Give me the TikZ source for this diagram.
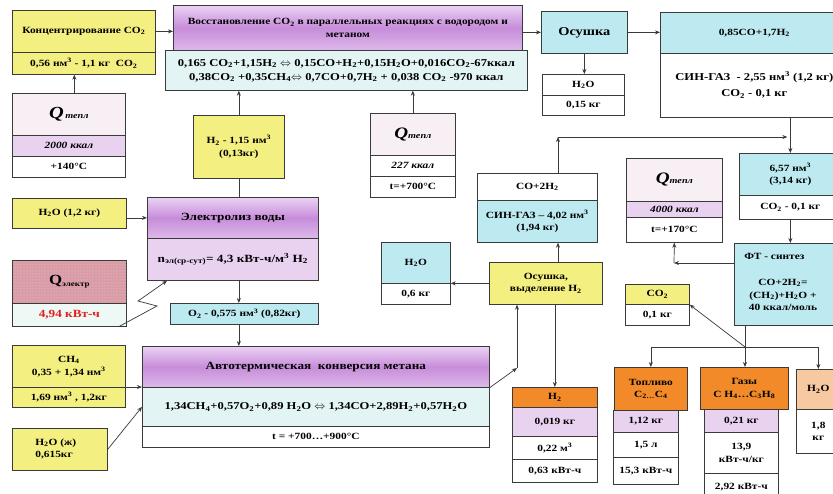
\documentclass[tikz,border=0pt]{standalone}
\usepackage{fontspec}
\setmainfont{Liberation Serif}[FakeStretch=1.2]
\usetikzlibrary{arrows.meta,calc,patterns}
\definecolor{yel}{HTML}{F3EF80}
\definecolor{cyn}{HTML}{BDEAF0}
\definecolor{lcyn}{HTML}{E3F4F4}
\definecolor{lav}{HTML}{E9D2F0}
\definecolor{pinkq}{HTML}{F7EFF3}
\definecolor{orng}{HTML}{F28A2A}
\definecolor{lorng}{HTML}{F6C9A0}
\definecolor{qred}{HTML}{D99CA6}
\definecolor{qdot}{HTML}{EFCDD2}
\definecolor{qel}{HTML}{EEF8F4}
\definecolor{redtxt}{HTML}{E02020}
\definecolor{lc}{HTML}{3A3A3A}
\definecolor{purA}{HTML}{EBD2F3}
\definecolor{purC}{HTML}{C78DDA}
\definecolor{purB}{HTML}{DDB8E9}
\newcommand\xsb[1]{\textsubscript{#1}}
\newcommand\xsp[1]{\textsuperscript{#1}}
\newcommand\Qt{{\fontsize{16}{16}\selectfont\itshape Q}{\fontsize{8.5}{8.5}\selectfont\itshape тепл}}
\tikzset{
  cell/.style={draw=lc, line width=0.7pt, inner sep=1pt, align=center,
    font=\bfseries\fontsize{9.5}{12.5}\selectfont, text=black},
  big/.style={font=\bfseries\fontsize{10.5}{13}\selectfont},
  arr/.style={draw=lc, line width=0.7pt, -{Stealth[length=5pt,width=4pt]}},
  ln/.style={draw=lc, line width=0.7pt},
  purp/.style={top color=purA, bottom color=purB, middle color=purC},
}
\newcommand\bx[7][]{\node[cell,minimum width={#5-#3},minimum height={#6-#4},anchor=north west,#1] (#2) at (#3,#4) {#7};}
\begin{document}
\begin{tikzpicture}[x=1pt,y=-1pt]
\useasboundingbox (0,0) rectangle (833,493);
\clip (0,0) rectangle (833,493);
\fill[white] (0,0) rectangle (833,493);
% left column
\bx[fill=yel]{konc1}{12}{10}{155}{52}{Концентрирование CO\xsb{2}}
\bx[fill=yel]{konc2}{12}{52}{155}{74}{0,56 нм\xsp{3} - 1,1 кг~~CO\xsb{2}}
\bx[fill=pinkq]{qa1}{12}{93}{125}{135}{{\fontsize{17}{17}\selectfont\itshape Q}\,{\fontsize{8.5}{8.5}\selectfont\itshape тепл}}
\bx[fill=lav]{qa2}{12}{135}{125}{156}{\itshape 2000 ккал}
\bx[fill=white]{qa3}{12}{156}{125}{177}{+140°C}
\bx[fill=yel]{h2oa}{12}{198}{126}{228}{H\xsb{2}O (1,2 кг)}
\bx[fill=qred,postaction={pattern=dots,pattern color=qdot}]{qe1}{12}{260}{126}{303}{}
\node[cell,draw=none] (qe1t) at (qe1.center) {{\fontsize{14}{14}\selectfont Q}{\fontsize{7.5}{7.5}\selectfont\raisebox{-1.5pt}{электр}}};
\bx[fill=qel,font=\bfseries\fontsize{11}{12}\selectfont,text=redtxt]{qe2}{12}{303}{126}{326}{4,94 кВт-ч}
\bx[fill=yel]{ch1}{12}{345}{125}{387}{CH\xsb{4}\\0,35 + 1,34 нм\xsp{3}}
\bx[fill=yel]{ch2}{12}{387}{125}{407}{1,69 нм\xsp{3} , 1,2кг}
\bx[fill=yel]{h2ozh}{12}{428}{107}{470}{}
\node[cell,draw=none,align=left,anchor=west] (h2ozht) at (34,449) {H\xsb{2}O (ж)\\0,615кг};
% centre
\bx[purp]{vos1}{173}{5}{522}{50}{Восстановление CO\xsb{2} в параллельных реакциях с водородом и\\метаном}
\bx[fill=lcyn,font=\bfseries\fontsize{10.5}{14}\selectfont]{vos2}{165}{50}{527}{90}{0,165 CO\xsb{2}+1,15H\xsb{2} $\Leftrightarrow$ 0,15CO+H\xsb{2}+0,15H\xsb{2}O+0,016CO\xsb{2}-67ккал\\0,38CO\xsb{2} +0,35CH\xsb{4}$\Leftrightarrow$ 0,7CO+0,7H\xsb{2} + 0,038 CO\xsb{2} -970 ккал}
\bx[fill=yel]{h2b}{193}{115}{284}{178}{H\xsb{2} - 1,15 нм\xsp{3}\\(0,13кг)}
\bx[purp,font=\bfseries\fontsize{11}{13}\selectfont]{el1}{147}{197}{318}{238}{Электролиз воды}
\bx[fill=lav,font=\bfseries\fontsize{11}{13}\selectfont]{el2}{147}{238}{318}{280}{n\xsb{эл(ср-сут)}= 4,3 кВт-ч/м\xsp{3} H\xsb{2}}
\bx[fill=cyn]{o2}{170}{303}{318}{324}{O\xsb{2} - 0,575 нм\xsp{3} (0,82кг)}
\bx[purp,font=\bfseries\fontsize{11}{13}\selectfont]{atc1}{142}{346}{489}{387}{Автотермическая~~конверсия метана}
\bx[fill=lcyn,big]{atc2}{142}{387}{489}{426}{1,34CH\xsb{4}+0,57O\xsb{2}+0,89 H\xsb{2}O $\Leftrightarrow$ 1,34CO+2,89H\xsb{2}+0,57H\xsb{2}O}
\bx[fill=white]{atc3}{142}{426}{489}{447}{t = +700…+900°C}
\bx[fill=pinkq]{qb1}{370}{113}{455}{155}{\Qt}
\bx[fill=white]{qb2}{370}{155}{455}{176}{\itshape 227 ккал}
\bx[fill=white]{qb3}{370}{176}{455}{197}{t=+700°C}
\bx[fill=cyn]{h2oc1}{381}{242}{450}{283}{H\xsb{2}O}
\bx[fill=white]{h2oc2}{381}{283}{450}{304}{0,6 кг}
\bx[fill=yel]{osv}{489}{262}{602}{304}{Осушка,\\выделение H\xsb{2}}
\bx[fill=white]{sg1}{477}{173}{597}{200}{CO+2H\xsb{2}}
\bx[fill=cyn]{sg2}{477}{200}{597}{242}{СИН-ГАЗ – 4,02 нм\xsp{3}\\(1,94 кг)}
\bx[fill=orng]{h2d1}{512}{387}{597}{407}{H\xsb{2}}
\bx[fill=lav]{h2d2}{512}{407}{597}{436}{0,019 кг}
\bx[fill=white]{h2d3}{512}{436}{597}{459}{0,22 м\xsp{3}}
\bx[fill=white]{h2d4}{512}{459}{597}{482}{0,63 кВт-ч}
% right
\bx[fill=cyn,font=\bfseries\fontsize{12}{14}\selectfont]{os}{541}{11}{627}{53}{Осушка}
\bx[fill=white]{osw1}{542}{74}{624}{95}{H\xsb{2}O}
\bx[fill=white]{osw2}{542}{95}{624}{115}{0,15 кг}
\bx[fill=cyn]{big1}{660}{12}{848}{53}{0,85CO+1,7H\xsb{2}}
\bx[fill=white,font=\bfseries\fontsize{10.5}{16}\selectfont]{big2}{660}{53}{848}{117}{СИН-ГАЗ~~- 2,55 нм\xsp{3} (1,2 кг)\\CO\xsb{2} - 0,1 кг}
\bx[fill=cyn]{n657a}{739}{153}{841}{195}{6,57 нм\xsp{3}\\(3,14 кг)}
\bx[fill=white]{n657b}{739}{195}{841}{219}{CO\xsb{2} - 0,1 кг}
\bx[fill=pinkq]{qc1}{626}{158}{722}{201}{\Qt}
\bx[fill=lav]{qc2}{626}{201}{722}{217}{\itshape 4000 ккал}
\bx[fill=white]{qc3}{626}{217}{722}{242}{t=+170°C}
\bx[fill=cyn]{ft}{734}{243}{834}{325}{}
\node[cell,draw=none,anchor=west] (fttitle) at (743,256) {ФТ - синтез};
\node[cell,draw=none] (fteq) at (783,295) {CO+2H\xsb{2}=\\(CH\xsb{2})+H\xsb{2}O +\\40 ккал/моль};
\bx[fill=yel]{co2r1}{625}{284}{689}{304}{CO\xsb{2}}
\bx[fill=white]{co2r2}{625}{304}{689}{325}{0,1 кг}
\bx[fill=lav]{top2}{613}{410}{678}{432}{1,12 кг}
\bx[fill=white]{top3}{613}{432}{678}{457}{1,5 л}
\bx[fill=white]{top4}{613}{457}{678}{484}{15,3 кВт-ч}
\bx[fill=orng]{top1}{614}{367}{687}{410}{Топливо\\C\xsb{2…}C\xsb{4}}
\bx[fill=lav]{gaz2}{704}{409}{778}{432}{0,21 кг}
\bx[fill=white]{gaz3}{704}{432}{778}{473}{13,9\\кВт-ч/кг}
\bx[fill=white]{gaz4}{704}{473}{778}{500}{2,92 кВт-ч}
\bx[fill=orng]{gaz1}{700}{367}{788}{409}{Газы\\C H\xsb{4}…C\xsb{3}H\xsb{8}}
\bx[fill=lorng]{h2or1}{796}{369}{840}{409}{H\xsb{2}O}
\bx[fill=white]{h2or2}{796}{409}{840}{453}{1,8\\кг}
% connectors
\coordinate (cA) at (558,137);
\coordinate (cB) at (517,368);
\coordinate (cC) at (674,263);
\coordinate (cD) at (745,347);
\draw[arr] (konc1.east) -- (konc1.east -| vos1.west);
\draw[arr] ([xshift=5.5]qa1.north) -- ([xshift=5.5]qa1.north |- konc2.south);
\draw[arr] (os.west -| vos1.east) -- (os.west);
\draw[arr] (os.south) -- (os.south |- osw1.north);
\draw[arr] (os.east) -- (os.east -| big1.west);
\draw[arr] (n657a.north |- big2.south) -- (n657a.north);
\draw[arr] (sg1.north -| cA) -- (cA);
\draw[arr,shorten >=3pt] (cA) -- (n657a.north |- cA);
\draw[arr] (osv.north -| cA) -- (sg2.south -| cA);
\draw[arr] (osv.west) -- (osv.west -| h2oc2.east);
\draw[arr] (h2d1.north |- osv.south) -- (h2d1.north);
\draw[arr] (atc1.south east) -- (cB);
\draw[arr] (cB) -- (cB |- osv.south);
\draw[arr] (h2b.north) -- (h2b.north |- vos2.south);
\draw[arr] (qb1.north) -- (qb1.north |- vos2.south);
\draw[ln] (h2b.south) -- (h2b.south |- el1.north);
\draw[arr] (h2oa.east |- el1.west) -- (el1.west);
\draw[arr] ([xshift=-8]qe2.south east) -- (157,306) -- (138,301) -- ([xshift=20]el2.south west);
\draw[arr] (el2.south -| h2b.south) -- (o2.north -| h2b.south);
\draw[arr] (o2.south -| h2b.south) -- (atc1.north -| h2b.south);
\draw[arr] (ch2.north east) -- (ch2.north east -| atc1.west);
\draw[arr] (h2ozh.east) -- (atc2.west);
\draw[arr] (ft.west |- cC) -- (cC);
\draw[arr] (cC) -- (qc3.south);
\draw[arr] (n657b.south -| n657a.north) -- (ft.north -| n657a.north);
\draw[ln] (ft.south -| cD) -- (cD);
\draw[ln] (top1.north |- cD) -- (h2or1.north |- cD);
\draw[arr] (top1.north |- cD) -- (top1.north);
\draw[arr] (cD) -- (gaz1.north -| cD);
\draw[arr] (h2or1.north |- cD) -- (h2or1.north);
\draw[arr] (cD) -- (co2r1.south east);
\end{tikzpicture}
\end{document}
